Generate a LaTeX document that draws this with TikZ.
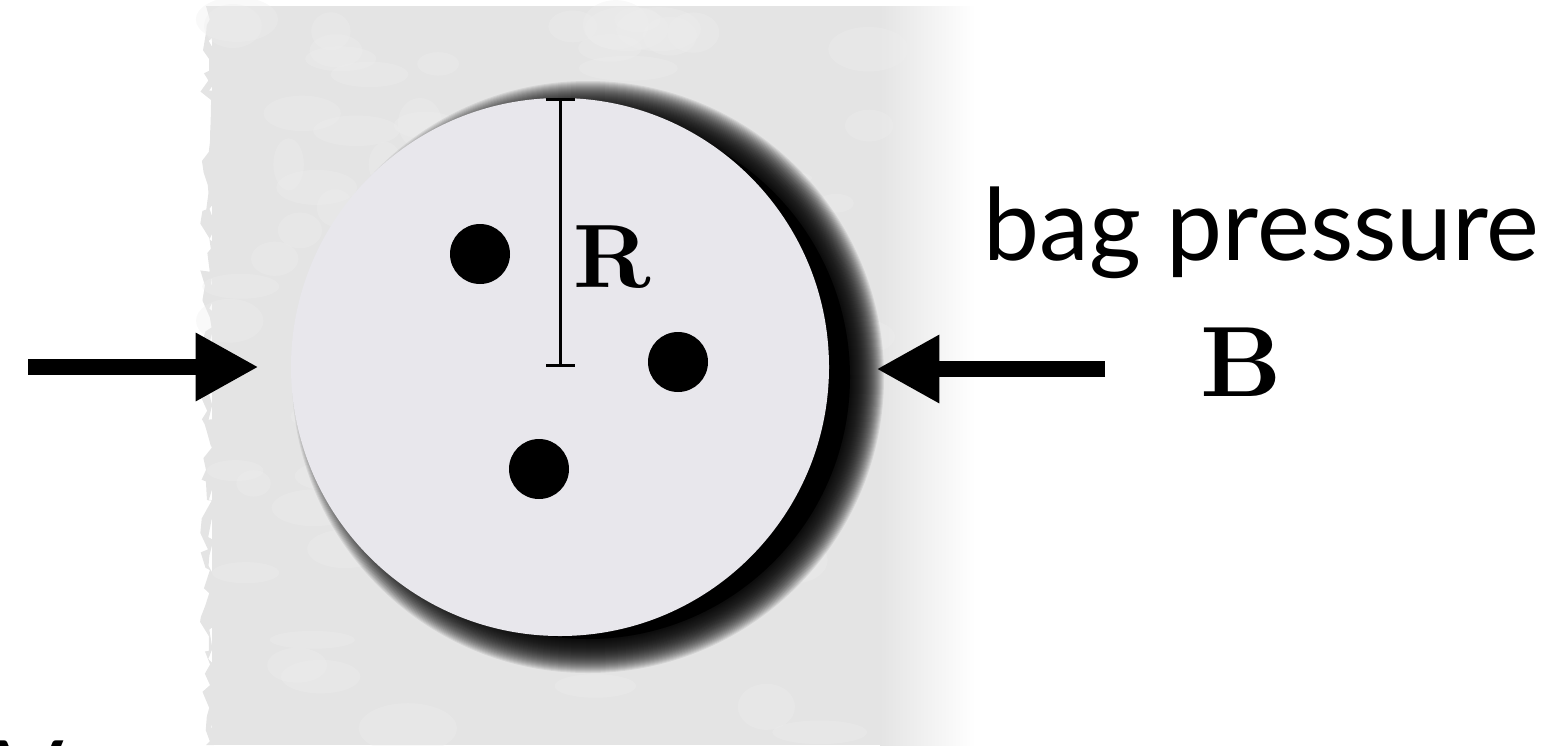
\documentclass[tikz,border=0pt]{standalone}
\usepackage{fontspec}
\newfontfamily\labelfont{Lato}
\usetikzlibrary{positioning, arrows.meta, decorations.pathmorphing}

\definecolor{bggrey}{RGB}{228,228,228}
\definecolor{blobgrey}{RGB}{238,238,238}
\definecolor{ballfill}{RGB}{232,231,236}

\begin{document}
\begin{tikzpicture}[
    x=0.5pt, y=-0.5pt,
    ball/.style={circle, fill=ballfill, minimum size=269pt, inner sep=0pt},
    particle/.style={circle, fill=black, minimum size=30pt, inner sep=0pt},
    push/.style={line width=8pt, -{Triangle[length=31.5pt, width=32pt]}},
    radius bar/.style={line width=1.5pt, {Bar[width=14.5pt]}-{Bar[width=14.5pt]}},
    bigsym/.style={inner sep=0pt, font=\fontsize{10}{12}\selectfont\bfseries},
    caption/.style={inner sep=0pt, font=\labelfont\fontsize{50}{56}\selectfont}
]
    \useasboundingbox (0,0) rectangle (1562,745);

    % background
    \fill[bggrey] (212,6) rectangle (882,745);
    \shade[left color=bggrey, right color=white] (880,6) rectangle (975,745);
    \fill[bggrey, decorate, decoration={random steps, segment length=5pt, amplitude=3pt}]
        (214,6) -- (206,6) -- (206,745) -- (214,745) -- cycle;
    \pgfmathsetseed{11}
    \foreach \i in {1,...,90}
        \fill[blobgrey, opacity=.35] (225+rnd*650, 15+rnd*725)
            ellipse ({15+rnd*35} and {8+rnd*18});

    % shadow and ball
    \foreach \r in {0,...,34}
        \fill[black, opacity=.07] (588,377) circle ({131pt+\r*0.5pt});
    \fill[black] (588,377) circle (131pt);
    \node[ball] (ball) at (560,367) {};

    \node[particle] (p1) at (480,254) {};
    \node[particle] (p2) at (678,362) {};
    \node[particle] (p3) at (539,469) {};

    \draw[radius bar] (ball.north) -- (ball.center);
    \node[bigsym, anchor=base west] (rlabel) at (573,287) {\scalebox{4.5}{R}};

    \coordinate (lstart) at (28,367);
    \coordinate (rstart) at (1105,369);
    \draw[push, shorten >=16pt] (lstart) -- (ball.west |- lstart);
    \draw[push, shorten >=23.5pt] (rstart) -- (ball.east |- rstart);

    \node[caption, anchor=base west] (bag) at (983,260) {bag pressure};
    \node[bigsym, anchor=base west] (blabel) at (1200,396) {\scalebox{5}{B}};
    \node[caption, anchor=base west] (vlabel) at (-4,812) {V};
\end{tikzpicture}
\end{document}
